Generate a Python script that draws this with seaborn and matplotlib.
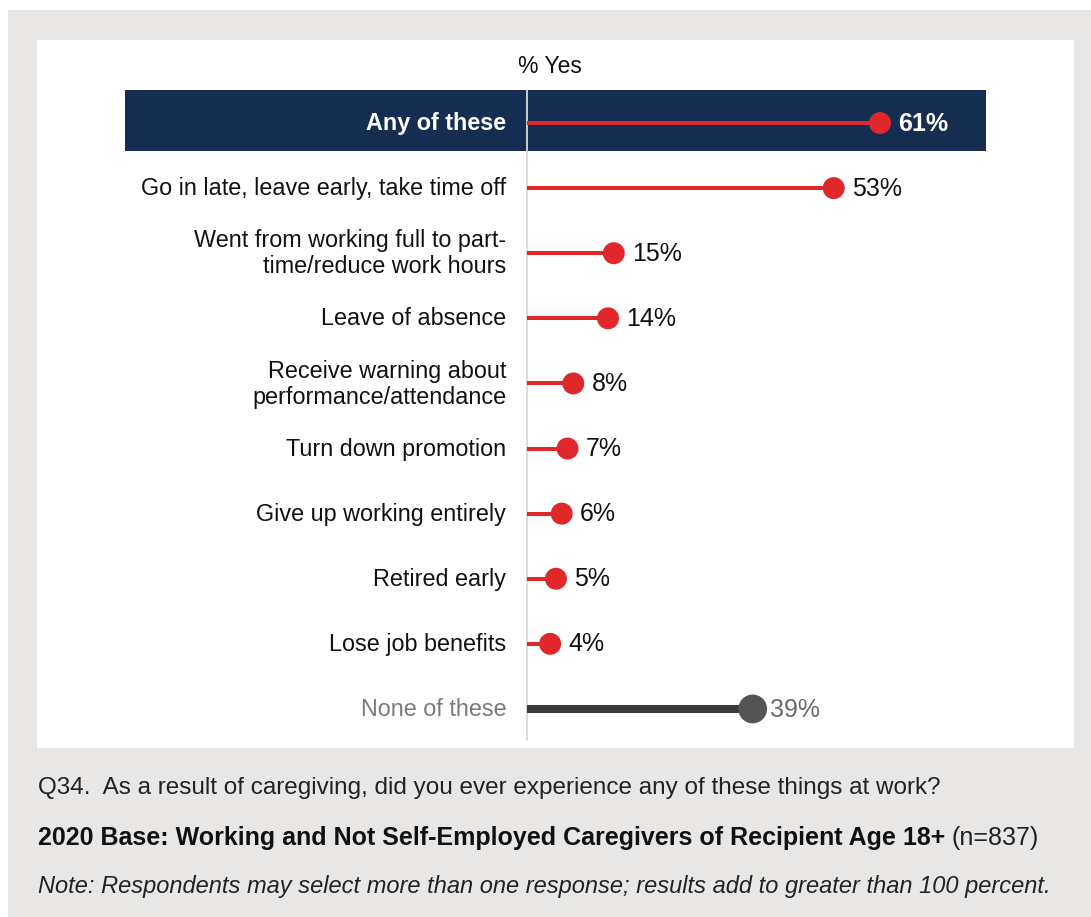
import matplotlib.pyplot as plt
import matplotlib.patches as patches
import seaborn as sns
import pandas as pd

# data
items = ["Any of these",
         "Go in late, leave early, take time off",
         "Went from working full to part-\ntime/reduce work hours",
         "Leave of absence",
         "Receive warning about\nperformance/attendance",
         "Turn down promotion",
         "Give up working entirely",
         "Retired early",
         "Lose job benefits",
         "None of these"]
pct_yes = [61, 53, 15, 14, 8, 7, 6, 5, 4, 39]

df = pd.DataFrame({"item": items, "pct": pct_yes, "row": range(len(items))})

sns.set_style("white")
plt.rcParams['font.family'] = ['Liberation Sans', 'DejaVu Sans']

W, H = 1091, 917
fig = plt.figure(figsize=(W / 100, H / 100), dpi=100)
fig.patch.set_facecolor("white")

# grey frame + white chart panel
fig.add_artist(patches.Rectangle((8 / W, 0), 1 - 8 / W, 1 - 10 / H, transform=fig.transFigure,
                                 facecolor="#E8E7E5", edgecolor="none", zorder=-2))
left, right, top, bottom = 37, 1074, 40, 748
ax = fig.add_axes([left / W, 1 - bottom / H, (right - left) / W, (bottom - top) / H])
ax.set_facecolor("white")

px = 5.787  # pixels per percent
ax.set_xlim(-(527 - left) / px, (right - 527) / px)
ax.set_ylim(9.6, -1.275)
for s in ax.spines.values():
    s.set_visible(False)
ax.set_xticks([])
ax.set_yticks([])

red = "#E0282A"
navy = "#162D52"
dark = "#3A3A3A"

# highlight band for the total
ax.add_patch(patches.Rectangle((-69.5, -0.5), 69.5 + 79.3, 0.93, facecolor=navy,
                               edgecolor="none", zorder=0))
ax.plot([0, 0], [-0.51, 9.48], color="#D8D8D8", lw=1.3, zorder=1)

main = df[df["item"] != "None of these"]
none = df[df["item"] == "None of these"]

ax.hlines(main["row"], 0, main["pct"], color=red, lw=2.9, zorder=2)
ax.hlines(none["row"], 0, none["pct"], color=dark, lw=5.8, zorder=2)
sns.scatterplot(data=main, x="pct", y="row", color=red, s=250, edgecolor="none",
                ax=ax, zorder=3, legend=False)
sns.scatterplot(data=none, x="pct", y="row", color="#555555", s=430, edgecolor="none",
                ax=ax, zorder=3, legend=False)
ax.set_xlabel("")
ax.set_ylabel("")

for _, r in df.iterrows():
    i = r["row"]
    if i == 0:
        lc, vc, wt = "white", "white", "bold"
    elif r["item"] == "None of these":
        lc, vc, wt = "#7A7A7A", "#6A6A6A", "normal"
    else:
        lc, vc, wt = "#111111", "#111111", "normal"
    ax.text(-3.6, i + 0.01, r["item"], ha="right", va="center", fontsize=16.8, color=lc,
            fontweight=wt, linespacing=1.17)
    off = 3.0 if r["item"] == "None of these" else 3.2
    ax.text(r["pct"] + off, i + 0.01, f"{r['pct']}%", ha="left", va="center", fontsize=18,
            color=vc, fontweight=wt)

ax.text(4.0, -0.87, "% Yes", ha="center", va="center", fontsize=16.5, color="#111111")

# footer notes
fig.text(38 / W, 1 - 788 / H, "Q34.  As a result of caregiving, did you ever experience any of these things at work?",
         fontsize=17.5, color="#222222", va="center")
t = fig.text(38 / W, 1 - 838 / H, "2020 Base: Working and Not Self-Employed Caregivers of Recipient Age 18+",
             fontsize=18, fontweight="bold", color="#111111", va="center")
fig.canvas.draw()
bb = t.get_window_extent()
fig.text(bb.x1 / W + 6 / W, 1 - 838 / H, "(n=837)", fontsize=18,
         color="#222222", va="center")
fig.text(38 / W, 1 - 886 / H, "Note: Respondents may select more than one response; results add to greater than 100 percent.",
         fontsize=17, style="italic", color="#222222", va="center")

fig.savefig("out.png", dpi=100)
